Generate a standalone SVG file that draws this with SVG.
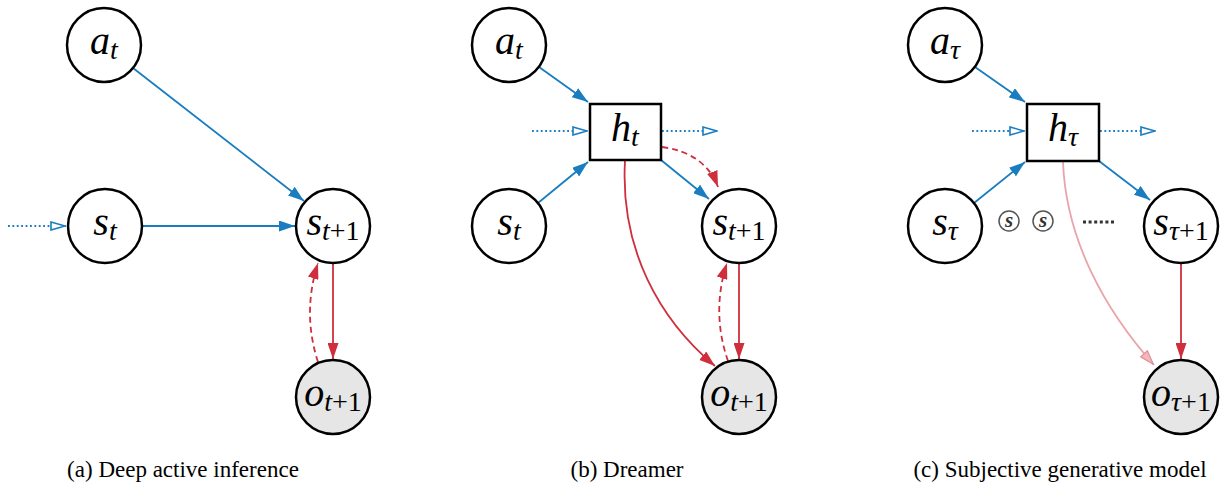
<svg xmlns="http://www.w3.org/2000/svg" width="1225" height="488" viewBox="0 0 1225 488">
<style>
.node{fill:#fff;stroke:#000;stroke-width:2.5}
.obs{fill:#e6e6e6;stroke:#000;stroke-width:2.5}
.blue{stroke:#1a7dbf;stroke-width:1.8;fill:none}
.dot{stroke:#1a7dbf;stroke-width:1.8;fill:none;stroke-dasharray:1.8 2.6}
.red{stroke:#cf2e3c;stroke-width:1.8;fill:none}
.dash{stroke:#cf2e3c;stroke-width:1.8;fill:none;stroke-dasharray:6 4}
.pink{stroke:#eba3aa;stroke-width:1.8;fill:none}
.small{fill:#fff;stroke:#555;stroke-width:1.5}
</style>
<defs>
<marker id="mb" viewBox="0 0 16 11" refX="16" refY="5.5" markerWidth="16" markerHeight="11" markerUnits="userSpaceOnUse" orient="auto"><path d="M0,0 L16,5.5 L0,11 z" fill="#1a7dbf"/></marker>
<marker id="mr" viewBox="0 0 16 11" refX="16" refY="5.5" markerWidth="16" markerHeight="11" markerUnits="userSpaceOnUse" orient="auto"><path d="M0,0 L16,5.5 L0,11 z" fill="#cf2e3c"/></marker>
<marker id="mp" viewBox="0 0 16 11" refX="16" refY="5.5" markerWidth="16" markerHeight="11" markerUnits="userSpaceOnUse" orient="auto"><path d="M1,1 L15,5.5 L1,10 z" fill="#f2b8be" stroke="#e38e97" stroke-width="1.2"/></marker>
<marker id="mo" viewBox="0 0 16 10" refX="16" refY="5" markerWidth="16" markerHeight="10" markerUnits="userSpaceOnUse" orient="auto"><path d="M1,1 L15,5 L1,9 z" fill="#fff" stroke="#1a7dbf" stroke-width="1.6"/></marker>
</defs>

<g id="connectors">
<line class="dot" x1="8" y1="226" x2="66" y2="226" marker-end="url(#mo)"/>
<line class="blue" x1="133" y1="68" x2="304" y2="201" marker-end="url(#mb)"/>
<line class="blue" x1="142" y1="226" x2="295" y2="226" marker-end="url(#mb)"/>
<line class="red" x1="333" y1="264" x2="333" y2="359" marker-end="url(#mr)"/>
<path class="dash" d="M318,362 Q302,313 318,263" marker-end="url(#mr)"/>
<line class="dot" x1="532" y1="131" x2="588" y2="131" marker-end="url(#mo)"/>
<line class="dot" x1="662" y1="131" x2="718" y2="131" marker-end="url(#mo)"/>
<line class="blue" x1="539" y1="67" x2="588" y2="102" marker-end="url(#mb)"/>
<line class="blue" x1="538" y1="203" x2="588" y2="162" marker-end="url(#mb)"/>
<line class="blue" x1="661" y1="160" x2="709" y2="199" marker-end="url(#mb)"/>
<path class="dash" d="M662,147 Q705,153 718,187" marker-end="url(#mr)"/>
<path class="red" d="M625,161 C620,250 660,320 715,366" marker-end="url(#mr)"/>
<line class="red" x1="739" y1="264" x2="739" y2="359" marker-end="url(#mr)"/>
<path class="dash" d="M728,361 Q711,312 727,263" marker-end="url(#mr)"/>
<line class="dot" x1="972" y1="131" x2="1025" y2="131" marker-end="url(#mo)"/>
<line class="dot" x1="1100" y1="131" x2="1156" y2="131" marker-end="url(#mo)"/>
<line class="blue" x1="975" y1="67" x2="1025" y2="102" marker-end="url(#mb)"/>
<line class="blue" x1="974" y1="203" x2="1025" y2="162" marker-end="url(#mb)"/>
<line class="blue" x1="1099" y1="161" x2="1150" y2="200" marker-end="url(#mb)"/>
<path class="pink" d="M1063,162 C1066,240 1105,310 1154,365" marker-end="url(#mp)"/>
<line class="red" x1="1181" y1="264" x2="1181" y2="359" marker-end="url(#mr)"/>
<line x1="1083" y1="222" x2="1115" y2="222" stroke="#333" stroke-width="3" stroke-dasharray="3 2.6"/>
</g>

<g font-family="'Liberation Serif', 'DejaVu Serif', 'Times New Roman', serif" font-style="italic" font-size="40" text-anchor="middle" fill="#000">
<g id="a_at"><circle class="node" cx="104" cy="45" r="37"/><text x="104" y="54">a<tspan font-size="28" dy="5">t</tspan></text></g>
<g id="a_st"><circle class="node" cx="105" cy="226" r="37"/><text x="105" y="235">s<tspan font-size="28" dy="5">t</tspan></text></g>
<g id="a_st1"><circle class="node" cx="333" cy="226" r="37"/><text x="333" y="235">s<tspan font-size="28" dy="5">t</tspan><tspan font-size="28" font-style="normal">+1</tspan></text></g>
<g id="a_ot1"><circle class="obs" cx="333" cy="397" r="37"/><text x="333" y="406">o<tspan font-size="28" dy="5">t</tspan><tspan font-size="28" font-style="normal">+1</tspan></text></g>

<g id="b_at"><circle class="node" cx="509" cy="45" r="37"/><text x="509" y="54">a<tspan font-size="28" dy="5">t</tspan></text></g>
<g id="b_ht"><rect class="node" x="590" y="104" width="71" height="56"/><text x="625" y="141">h<tspan font-size="28" dy="5">t</tspan></text></g>
<g id="b_st"><circle class="node" cx="509" cy="226" r="37"/><text x="509" y="235">s<tspan font-size="28" dy="5">t</tspan></text></g>
<g id="b_st1"><circle class="node" cx="739" cy="226" r="37"/><text x="739" y="235">s<tspan font-size="28" dy="5">t</tspan><tspan font-size="28" font-style="normal">+1</tspan></text></g>
<g id="b_ot1"><circle class="obs" cx="739" cy="397" r="37"/><text x="739" y="406">o<tspan font-size="28" dy="5">t</tspan><tspan font-size="28" font-style="normal">+1</tspan></text></g>

<g id="c_at"><circle class="node" cx="945" cy="45" r="37"/><text x="945" y="54">a<tspan font-size="28" dy="5">τ</tspan></text></g>
<g id="c_ht"><rect class="node" x="1027" y="104" width="72" height="57"/><text x="1063" y="141">h<tspan font-size="28" dy="5">τ</tspan></text></g>
<g id="c_st"><circle class="node" cx="945" cy="226" r="37"/><text x="945" y="235">s<tspan font-size="28" dy="5">τ</tspan></text></g>
<g id="c_s1"><circle class="small" cx="1009" cy="221" r="10"/><text x="1009" y="227" font-size="21" font-weight="bold" fill="#333">s</text></g>
<g id="c_s2"><circle class="small" cx="1043" cy="221" r="10"/><text x="1043" y="227" font-size="21" font-weight="bold" fill="#333">s</text></g>
<g id="c_st1"><circle class="node" cx="1181" cy="226" r="37"/><text x="1181" y="235">s<tspan font-size="28" dy="5">τ</tspan><tspan font-size="28" font-style="normal">+1</tspan></text></g>
<g id="c_ot1"><circle class="obs" cx="1181" cy="397" r="37"/><text x="1181" y="406">o<tspan font-size="28" dy="5">τ</tspan><tspan font-size="28" font-style="normal">+1</tspan></text></g>
</g>

<g id="captions" font-family="'Liberation Serif', 'DejaVu Serif', 'Times New Roman', serif" font-size="23" text-anchor="middle" fill="#000">
<text x="183" y="477">(a) Deep active inference</text>
<text x="627" y="477">(b) Dreamer</text>
<text x="1060" y="477">(c) Subjective generative model</text>
</g>
</svg>
